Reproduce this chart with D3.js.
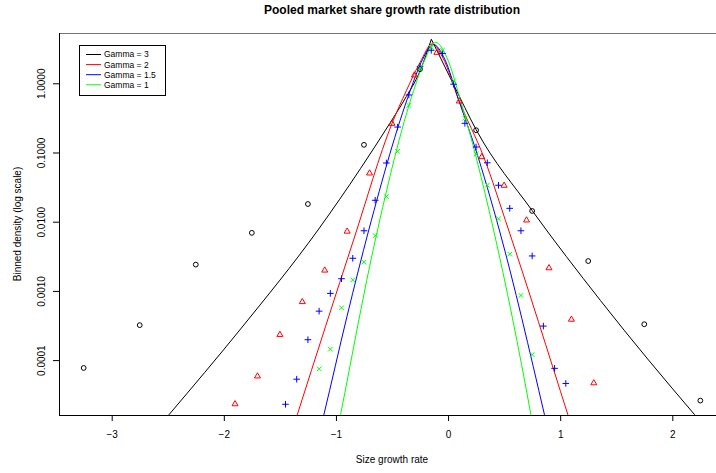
<!DOCTYPE html>
<html>
<head>
<meta charset="utf-8">
<script src="https://cdn.jsdelivr.net/npm/d3@7"></script>
<style>
  body { margin: 0; background: #fff; }
  svg text { font-family: "Liberation Sans", Arial, Helvetica, sans-serif; fill: #000; }
</style>
</head>
<body>
<div id="chartArea"></div>
<script>
// binned densities (points)
var bins3 = [-3.25, -2.75, -2.25, -1.75, -1.25, -0.75, -0.25, 0.25, 0.75, 1.25, 1.75, 2.25];
var dens3 = [7.7e-5, 3.2e-4, 0.0024, 0.0069, 0.018, 0.129, 1.6, 0.21, 0.0143, 0.0027, 3.3e-4, 2.6e-5];

var bins2 = [-1.9, -1.7, -1.5, -1.3, -1.1, -0.9, -0.7, -0.5, -0.3, -0.1, 0.1, 0.3, 0.5, 0.7, 0.9, 1.1, 1.3];
var dens2 = [2.34e-5, 5.9e-5, 2.35e-4, 7.0e-4, 0.0020, 0.0073, 0.0506, 0.264, 1.32, 2.8, 0.555, 0.087, 0.0336, 0.0106, 0.00216, 3.9e-4, 4.7e-5];

var bins15 = [-1.55, -1.45, -1.35, -1.25, -1.15, -1.05, -0.95, -0.85, -0.75, -0.65, -0.55, -0.45, -0.35, -0.25, -0.15, -0.05,
              0.05, 0.15, 0.25, 0.35, 0.45, 0.55, 0.65, 0.75, 0.85, 0.95, 1.05];
var dens15 = [1.4e-5, 2.3e-5, 5.3e-5, 1.97e-4, 5.1e-4, 9.2e-4, 0.0015, 0.00296, 0.0074, 0.0204, 0.0705, 0.233, 0.678, 1.74, 3.0, 2.7,
              0.97, 0.264, 0.12, 0.071, 0.0336, 0.0156, 0.0074, 0.0032, 3.1e-4, 7.6e-5, 4.6e-5];

var bins1 = [-1.15, -1.05, -0.95, -0.85, -0.75, -0.65, -0.55, -0.45, -0.35, -0.25, -0.15, -0.05,
             0.05, 0.15, 0.25, 0.35, 0.45, 0.55, 0.65, 0.75];
var dens1 = [7.5e-5, 1.44e-4, 5.7e-4, 0.00144, 0.0026, 0.0063, 0.023, 0.104, 0.48, 1.65, 3.3, 3.0,
             1.09, 0.312, 0.095, 0.0336, 0.011, 0.0034, 8.6e-4, 1.2e-4];

// fitted curves
var fitX3 = [-2.6, -2.49, -1.85, -1.16, -0.78, -0.52, -0.39, -0.25, -0.149,
             0.05, 0.25, 0.75, 1.36, 2.2, 2.3];
var fitY3 = [1.0e-5, 1.62e-5, 2.82e-4, 7.59e-3, 0.0589, 0.263, 0.575, 1.51, 4.33,
             0.955, 0.214, 0.0145, 7.24e-4, 1.62e-5, 1.05e-5];
var peak3 = 8; // index of the cusp

var fitX2 = [-1.40, -1.345, -0.84, -0.5, -0.37, -0.25, -0.14, -0.05, 0.10, 0.317, 0.54, 1.069, 1.12];
var fitY2 = [8.5e-6, 1.62e-5, 5.62e-3, 0.263, 0.794, 2.0, 3.72, 2.4, 0.55, 0.0871, 7.59e-3, 1.62e-5, 8.9e-6];

var fitX15 = [-1.15, -1.108, -0.9, -0.707, -0.336, -0.24, -0.13, -0.03, 0.094, 0.243, 0.457, 0.86, 0.90];
var fitY15 = [8.5e-6, 1.62e-5, 4.37e-4, 7.59e-3, 0.794, 2.0, 3.63, 2.24, 0.575, 0.115, 7.59e-3, 1.62e-5, 8.5e-6];

var fitX1 = [-0.993, -0.959, -0.647, -0.306, -0.21, -0.11, -0.01, 0.11, 0.406, 0.739, 0.77];
var fitY1 = [8.5e-6, 1.62e-5, 5.62e-3, 0.794, 2.14, 3.89, 2.34, 0.575, 7.59e-3, 1.62e-5, 8.5e-6];

var xTicks = [-3, -2, -1, 0, 1, 2];
var yTicks = [1, 0.1, 0.01, 0.001, 0.0001];
var legendLabels = ['Gamma = 3', 'Gamma = 2', 'Gamma = 1.5', 'Gamma = 1'];
var colors = ['#000000', '#ff0000', '#0000ff', '#00ff00'];

var w = 716, h = 473;
var plotL = 59, plotR = 725, plotT = 33, plotB = 415;

var svg = d3.select('#chartArea').append('svg')
    .attr('width', w)
    .attr('height', h);

var xScale = d3.scaleLinear()
    .domain([-3.47, 2.47])
    .range([plotL, plotR]);

var yScale = d3.scaleLog()
    .domain([1.61e-5, 5.33])
    .range([plotB, plotT]);

svg.append('clipPath').attr('id', 'plotClip')
  .append('rect')
    .attr('x', plotL).attr('y', plotT)
    .attr('width', plotR - plotL).attr('height', plotB - plotT);

var plot = svg.append('g').attr('clip-path', 'url(#plotClip)');

function zip(xs, ys) {
    return xs.map(function (x, i) { return [x, ys[i]]; });
}

var line = d3.line()
    .x(function (d) { return xScale(d[0]); })
    .y(function (d) { return yScale(d[1]); })
    .curve(d3.curveMonotoneX);

// black curve has a cusp at its peak: draw both halves
var black = zip(fitX3, fitY3);
[black.slice(0, peak3 + 1), black.slice(peak3)].forEach(function (seg) {
    plot.append('path').attr('d', line(seg))
        .attr('fill', 'none').attr('stroke', colors[0]).attr('stroke-width', 1);
});
[[fitX2, fitY2, 1], [fitX15, fitY15, 2], [fitX1, fitY1, 3]].forEach(function (s) {
    plot.append('path').attr('d', line(zip(s[0], s[1])))
        .attr('fill', 'none').attr('stroke', colors[s[2]]).attr('stroke-width', 1);
});

// points
plot.selectAll('circle.p3')
    .data(zip(bins3, dens3))
    .enter().append('circle')
    .attr('class', 'p3')
    .attr('cx', function (d) { return xScale(d[0]); })
    .attr('cy', function (d) { return yScale(d[1]); })
    .attr('r', 2.4)
    .attr('fill', 'none').attr('stroke', colors[0]).attr('stroke-width', 1);

plot.selectAll('path.p2')
    .data(zip(bins2, dens2))
    .enter().append('path')
    .attr('class', 'p2')
    .attr('transform', function (d) { return 'translate(' + xScale(d[0]) + ',' + yScale(d[1]) + ')'; })
    .attr('d', 'M-3,2L3,2L0,-3.2Z')
    .attr('fill', 'none').attr('stroke', colors[1]).attr('stroke-width', 1);

plot.selectAll('path.p15')
    .data(zip(bins15, dens15))
    .enter().append('path')
    .attr('class', 'p15')
    .attr('transform', function (d) { return 'translate(' + xScale(d[0]) + ',' + yScale(d[1]) + ')'; })
    .attr('d', 'M-3.3,0L3.3,0M0,-3.3L0,3.3')
    .attr('fill', 'none').attr('stroke', colors[2]).attr('stroke-width', 1);

plot.selectAll('path.p1')
    .data(zip(bins1, dens1))
    .enter().append('path')
    .attr('class', 'p1')
    .attr('transform', function (d) { return 'translate(' + xScale(d[0]) + ',' + yScale(d[1]) + ')'; })
    .attr('d', 'M-2.3,-2.3L2.3,2.3M-2.3,2.3L2.3,-2.3')
    .attr('fill', 'none').attr('stroke', colors[3]).attr('stroke-width', 1);

// axes
var xAxis = svg.append('g')
    .attr('transform', 'translate(0,' + plotB + ')')
    .call(d3.axisBottom(xScale).tickValues(xTicks).tickSize(6).tickPadding(10)
        .tickFormat(function (d) { return d < 0 ? '\u2212' + Math.abs(d) : String(d); }));
xAxis.select('.domain').remove();
xAxis.selectAll('text').style('font-size', '10px').attr('font-family', null);

var yAxis = svg.append('g')
    .attr('transform', 'translate(' + plotL + ',0)')
    .call(d3.axisLeft(yScale).tickValues(yTicks).tickSize(6).tickFormat(d3.format('.4f')));
yAxis.select('.domain').remove();
yAxis.selectAll('text')
    .style('font-size', '10px')
    .attr('font-family', null)
    .attr('transform', 'rotate(-90)')
    .attr('x', 0).attr('y', -14).attr('dy', 0)
    .attr('text-anchor', 'middle');

// frame (top edge is lighter in the original)
svg.append('rect')
    .attr('x', plotL + 0.5).attr('y', plotT + 0.5)
    .attr('width', plotR - plotL).attr('height', plotB - plotT)
    .attr('fill', 'none').attr('stroke', '#000').attr('stroke-width', 1);
svg.append('line')
    .attr('x1', plotL + 1).attr('x2', w)
    .attr('y1', plotT + 0.5).attr('y2', plotT + 0.5)
    .attr('stroke', '#777').attr('stroke-width', 1);

// titles
svg.append('text')
    .attr('x', 392).attr('y', 14)
    .attr('text-anchor', 'middle')
    .style('font-size', '12px').style('font-weight', 'bold')
    .text('Pooled market share growth rate distribution');

svg.append('text')
    .attr('x', 392).attr('y', 463)
    .attr('text-anchor', 'middle')
    .style('font-size', '10px')
    .text('Size growth rate');

svg.append('text')
    .attr('transform', 'translate(21,224) rotate(-90)')
    .attr('text-anchor', 'middle')
    .style('font-size', '10px')
    .text('Binned density (log scale)');

// legend
var legend = svg.append('g');
legend.append('rect')
    .attr('x', 79.5).attr('y', 45.5)
    .attr('width', 86).attr('height', 50)
    .attr('fill', '#fff').attr('stroke', '#000').attr('stroke-width', 1);

var rows = legend.selectAll('g.row')
    .data(legendLabels)
    .enter().append('g')
    .attr('class', 'row')
    .attr('transform', function (d, i) { return 'translate(0,' + (54.5 + i * 10.1) + ')'; });
rows.append('line')
    .attr('x1', 86).attr('x2', 101)
    .attr('stroke', function (d, i) { return colors[i]; })
    .attr('stroke-width', 1);
rows.append('text')
    .attr('x', 104).attr('dy', '0.35em')
    .style('font-size', '8.5px')
    .text(function (d) { return d; });
</script>
</body>
</html>
